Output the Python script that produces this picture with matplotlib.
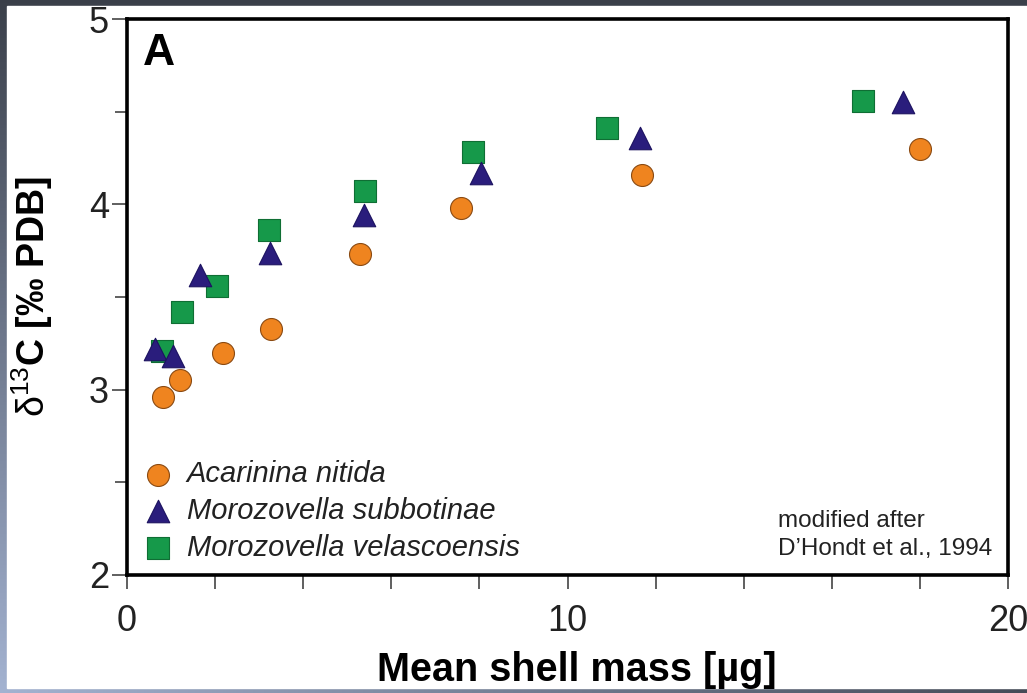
import numpy as np
import matplotlib
matplotlib.use("Agg")
import matplotlib.pyplot as plt

plt.rcParams['font.family'] = ['Liberation Sans', 'DejaVu Sans']
plt.rcParams['mathtext.fontset'] = 'custom'
plt.rcParams['mathtext.rm'] = 'Liberation Sans'
plt.rcParams['mathtext.it'] = 'Liberation Sans:italic'
plt.rcParams['mathtext.bf'] = 'Liberation Sans:bold'

# mean shell mass [ug] and d13C [permil PDB]
nitida_mass = [0.82, 1.20, 2.18, 3.27, 5.29, 7.58, 11.69, 18.0]
nitida_d13c = [2.96, 3.05, 3.20, 3.33, 3.73, 3.98, 4.16, 4.30]

subbotinae_mass = [0.64, 1.04, 1.66, 3.25, 5.38, 8.04, 11.65, 17.62]
subbotinae_d13c = [3.22, 3.18, 3.62, 3.74, 3.94, 4.17, 4.36, 4.55]

velasco_mass = [0.79, 1.25, 2.04, 3.22, 5.40, 7.85, 10.90, 16.71]
velasco_d13c = [3.21, 3.42, 3.56, 3.86, 4.07, 4.28, 4.41, 4.56]

labels = ["Acarinina nitida", "Morozovella subbotinae", "Morozovella velascoensis"]

W, H = 1027, 693
fig = plt.figure(figsize=(W / 100, H / 100), dpi=100)

# dark slide-style frame around the white figure
bg = fig.add_axes([0, 0, 1, 1])
yy, xx = np.mgrid[0:1:200j, 0:1:300j]
t = np.clip(yy * (1 - 0.9 * xx), 0, 1)[..., None]
dark = np.array([0.23, 0.25, 0.29])
light = np.array([0.64, 0.70, 0.82])
bg.imshow(dark * (1 - t) + light * t, aspect='auto', extent=[0, 1, 0, 1], origin='upper')
bg.add_patch(plt.Rectangle((7 / W, 5 / H), 1 - 7 / W, 1 - 11 / H, color='white'))
bg.set_xlim(0, 1)
bg.set_ylim(0, 1)
bg.axis('off')

ax = fig.add_axes([127 / W, (H - 575) / H, 881 / W, 556 / H])
ax.set_facecolor('white')

ms = 250
c1 = ax.scatter(nitida_mass, nitida_d13c, s=ms, marker='o', color='#ef841f',
                edgecolor='#8a4a12', linewidth=0.8, zorder=3)
c3 = ax.scatter(velasco_mass, velasco_d13c, s=ms * 0.95, marker='s', color='#16994a',
                edgecolor='#0f6e34', linewidth=0.8, zorder=3)
c2 = ax.scatter(subbotinae_mass, subbotinae_d13c, s=ms * 1.05, marker='^', color='#2a1d7c',
                edgecolor='#1c1260', linewidth=0.8, zorder=4)

ax.set_xlim(0, 20)
ax.set_ylim(2, 5)
ax.set_xticks([0, 10, 20])
ax.set_xticks(np.arange(0, 21, 2), minor=True)
ax.set_yticks([2, 3, 4, 5])
ax.set_yticks([2.5, 3.5, 4.5], minor=True)
ax.tick_params(which='both', direction='out', color='#444444', width=1.2, labelcolor='#222222')
ax.tick_params(axis='x', which='both', length=10, pad=11, labelsize=26)
ax.tick_params(axis='y', which='major', length=11, pad=2, labelsize=26)
ax.tick_params(axis='y', which='minor', length=9)
for s in ax.spines.values():
    s.set_linewidth(2.6)
    s.set_color('black')

ax.set_xlabel("Mean shell mass [µg]", fontsize=28.5, fontweight='bold')
ax.xaxis.set_label_coords((577 - 127) / 881, -0.137)
ax.set_ylabel(r"$\mathrm{\delta}^{\mathrm{13}}$C [‰ PDB]", fontsize=27, fontweight='bold')
ax.yaxis.set_label_coords((55 - 127) / 881, 0.5)

ax.text(0.018, 0.975, "A", transform=ax.transAxes, fontsize=32, fontweight='bold',
        ha='left', va='top')
ax.text(0.739, 0.027, "modified after\nD’Hondt et al., 1994", transform=ax.transAxes,
        fontsize=17.5, ha='left', va='bottom', linespacing=1.35, color='#222222')

ax.legend([c1, c2, c3], labels, loc='lower left', frameon=False,
          prop={'style': 'italic', 'size': 21}, handlelength=1.2, handletextpad=0.4,
          borderpad=0, borderaxespad=0.45, labelspacing=0.3, scatterpoints=1,
          labelcolor='#222222')

fig.savefig("out.png", dpi=100)
